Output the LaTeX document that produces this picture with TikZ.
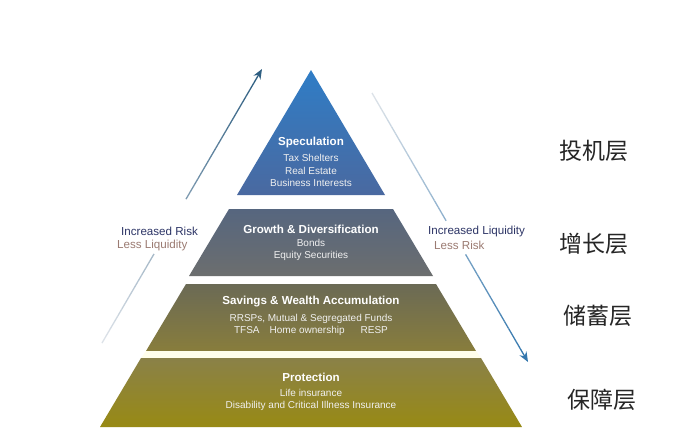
\documentclass[tikz,border=0pt]{standalone}
\usepackage{fontspec}
\setmainfont{Liberation Sans}
\newfontfamily\cjk{Noto Sans CJK SC}
\usetikzlibrary{calc,arrows.meta}
\definecolor{tOneTop}{HTML}{2F7DC6}
\definecolor{tOneBot}{HTML}{4A69A0}
\definecolor{tTwoTop}{HTML}{56667F}
\definecolor{tTwoBot}{HTML}{6C6E6E}
\definecolor{tThreeTop}{HTML}{6B6A55}
\definecolor{tThreeBot}{HTML}{887D3C}
\definecolor{tFourTop}{HTML}{8A8148}
\definecolor{tFourBot}{HTML}{988A14}
\definecolor{navyTxt}{HTML}{2D3566}
\definecolor{brownTxt}{HTML}{9B7B72}
\definecolor{arrLight}{HTML}{DCE2E8}
\definecolor{arrDark}{HTML}{2F5F82}
\definecolor{arrBlue}{HTML}{3578AE}
\begin{document}
\begin{tikzpicture}[x=1pt,y=-1pt,
  head/.style={inner sep=0pt, text=white, font=\fontsize{11.6}{13}\selectfont\bfseries},
  subtxt/.style={inner sep=0pt, text=white!94!black, font=\fontsize{10}{12}\selectfont},
  risk/.style={inner sep=0pt, anchor=west, font=\fontsize{11.6}{13}\selectfont},
  layer/.style={inner sep=0pt, font=\cjk\fontsize{23}{25}\selectfont, text=black!85}]
\useasboundingbox (0,0) rectangle (676,442);
\fill[white] (0,0) rectangle (676,442);

% pyramid tiers
\shade[top color=tOneTop, bottom color=tOneBot] (311,70) -- (385,195) -- (237,195) -- cycle;
\shade[top color=tTwoTop, bottom color=tTwoBot] (229,209) -- (393,209) -- (433,276) -- (189,276) -- cycle;
\shade[top color=tThreeTop, bottom color=tThreeBot] (186,284) -- (436,284) -- (476,351) -- (146,351) -- cycle;
\fill[yellow!8] (146,351) -- (476,351) -- (481,358) -- (141,358) -- cycle;
\shade[top color=tFourTop, bottom color=tFourBot] (141,358) -- (481,358) -- (522,427) -- (100,427) -- cycle;

% tier texts
\node[head] (specH) at (311,142) {Speculation};
\node[subtxt] (spec1) at (311,158) {Tax Shelters};
\node[subtxt] (spec2) at (311,171) {Real Estate};
\node[subtxt] (spec3) at (311,183) {Business Interests};

\node[head] (growH) at (311,229) {Growth \& Diversification};
\node[subtxt] (grow1) at (311,243) {Bonds};
\node[subtxt] (grow2) at (311,256) {Equity Securities};

\node[head] (saveH) at (311,302) {Savings \& Wealth Accumulation};
\node[subtxt] (save1) at (311,319) {RRSPs, Mutual \& Segregated Funds};
\node[subtxt] (save2) at (311,331) {TFSA\hspace{1em}Home ownership\hspace{1.6em}RESP};

\node[head] (protH) at (311,377) {Protection};
\node[subtxt] (prot1) at (311,393) {Life insurance};
\node[subtxt] (prot2) at (311,406) {Disability and Critical Illness Insurance};

% side labels
\node[risk, text=navyTxt] (lrisk) at (121,231) {Increased Risk};
\node[risk, text=brownTxt] (lliq) at (117,245) {Less Liquidity};
\node[risk, text=navyTxt] (rliq) at (428,231) {Increased Liquidity};
\node[risk, text=brownTxt] (rrisk) at (434,245) {Less Risk};

% Chinese layer labels
\node[layer] (l1) at (594,151) {投机层};
\node[layer] (l2) at (594,244) {增长层};
\node[layer] (l3) at (598,316) {储蓄层};
\node[layer] (l4) at (602,400) {保障层};

% left arrow (light at bottom, dark at top)
\coordinate (L0) at (102,343);
\coordinate (L1) at (262,69);
\foreach \i in {0,...,38}{
  \pgfmathsetmacro\ta{\i/40}
  \pgfmathsetmacro\tb{(\i+1)/40}
  \pgfmathtruncatemacro\pc{\i*100/38}
  \pgfmathtruncatemacro\gapflag{(\ta>=0.31 && \tb<=0.545) ? 1 : 0}
  \ifnum\gapflag=0
    \draw[line width=1.3pt, color=arrDark!\pc!arrLight] ($(L0)!\ta!(L1)$) -- ($(L0)!\tb!(L1)$);
  \fi
}
\draw[line width=1.3pt, arrDark, -{Stealth[length=10pt,width=8pt]}] ($(L0)!0.975!(L1)$) -- (L1);

% right arrow (light at top, dark at bottom)
\coordinate (R0) at (372,93);
\coordinate (R1) at (528,362);
\foreach \i in {0,...,38}{
  \pgfmathsetmacro\ta{\i/40}
  \pgfmathsetmacro\tb{(\i+1)/40}
  \pgfmathtruncatemacro\pc{\i*100/38}
  \pgfmathtruncatemacro\gapflag{(\ta>=0.46 && \tb<=0.62) ? 1 : 0}
  \ifnum\gapflag=0
    \draw[line width=1.3pt, color=arrBlue!\pc!arrLight] ($(R0)!\ta!(R1)$) -- ($(R0)!\tb!(R1)$);
  \fi
}
\draw[line width=1.3pt, arrBlue, -{Stealth[length=10pt,width=8pt]}] ($(R0)!0.975!(R1)$) -- (R1);
\end{tikzpicture}
\end{document}
